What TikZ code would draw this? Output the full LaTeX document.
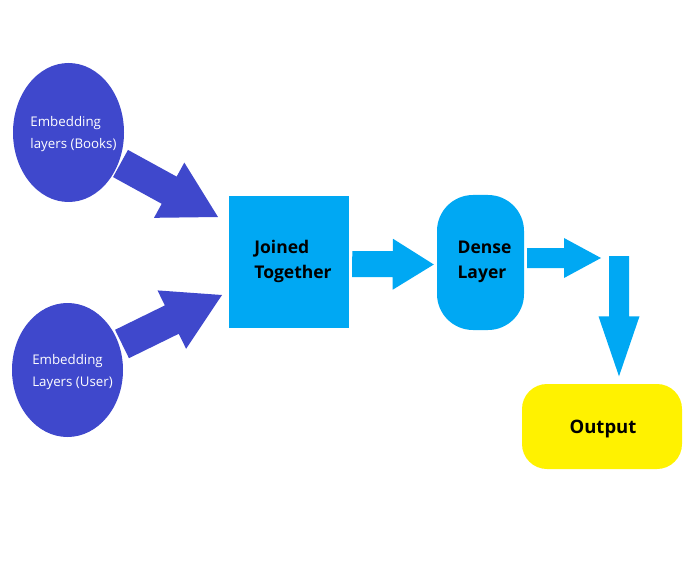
\documentclass[tikz,border=0pt]{standalone}
\usepackage{fontspec}
\setmainfont{Open Sans}
\usetikzlibrary{positioning,shapes.geometric,calc}

\definecolor{embblue}{HTML}{3F48CC}
\definecolor{skyblue}{HTML}{00A8F3}
\definecolor{outyellow}{HTML}{FFF200}

% fat block arrow: tail, tip, shaft half width, head half width, head length, colour
\newcommand{\fatarrow}[6]{%
  \coordinate (hb) at ($(#2)!#5!(#1)$);
  \fill[#6] ($(#1)!#3!90:(#2)$) -- ($(hb)!#3!90:(#2)$) -- ($(hb)!#4!90:(#2)$) -- (#2)
    -- ($(hb)!#4!-90:(#2)$) -- ($(hb)!#3!-90:(#2)$) -- ($(#1)!#3!-90:(#2)$) -- cycle;
}

\begin{document}
\begin{tikzpicture}[x=1pt, y=-1pt]
    \tikzstyle{embcircle} = [ellipse, fill=embblue, minimum width=111pt, inner sep=0pt]
    \tikzstyle{embtext} = [text=white, align=left, inner sep=0pt, font=\fontsize{13.3}{22}\selectfont]
    \tikzstyle{bluebox} = [rectangle, fill=skyblue, inner sep=0pt]
    \tikzstyle{boldtext} = [align=left, inner sep=0pt, font=\bfseries\fontsize{17.5}{25}\selectfont]
    \tikzstyle{outbox} = [rectangle, fill=outyellow, rounded corners=25pt, minimum width=160pt, minimum height=85pt, inner sep=0pt]
    \useasboundingbox (0,0) rectangle (696,564);
    \node[embcircle, minimum height=139pt] (E1) at (68.5,132.5) {};
    \node[embtext, xshift=5pt, yshift=-2pt] (E1t) at (E1) {Embedding\\layers (Books)};
    \node[embcircle, minimum height=134pt] (E2) at (67.5,370) {};
    \node[embtext, xshift=5pt, yshift=-2pt] (E2t) at (E2) {Embedding\\Layers (User)};
    \node[bluebox, minimum width=120pt, minimum height=132pt] (J) at (289,262) {};
    \node[boldtext, xshift=4pt, yshift=1pt] (Jt) at (J) {Joined\\Together};
    \node[bluebox, minimum width=87pt, minimum height=135pt, rounded corners=36pt] (D) at (480.5,262.5) {};
    \node[boldtext, xshift=4pt, yshift=1pt] (Dt) at (D) {Dense\\Layer};
    \node[outbox] (O) at (602,426.5) {};
    \node[boldtext, font=\bfseries\fontsize{18.5}{25}\selectfont, xshift=1pt, yshift=-3pt] (Ot) at (O) {Output};
    % arrow ends
    \coordinate (t1) at (120.5,163.5); \coordinate (h1) at (218,217);
    \coordinate (t2) at (122,344);     \coordinate (h2) at (222,295);
    \coordinate (t3) at ($(J.east)+(3,2)$);   \coordinate (h3) at ($(D.west)+(-3,2)$);
    \coordinate (t4) at ($(D.east)+(3,-4.5)$); \coordinate (h4) at (601,258);
    \coordinate (t5) at (619,256);     \coordinate (h5) at ($(O.north)+(17,-7.5)$);
    \foreach \t/\h/\s/\w/\l/\c in {t1/h1/15.5pt/31.5pt/55.7pt/embblue, t2/h2/15.8pt/32.5pt/55.9pt/embblue,
        t3/h3/13pt/25.5pt/41pt/skyblue, t4/h4/10pt/20pt/37pt/skyblue, t5/h5/10pt/20.5pt/60pt/skyblue}
    {
        \fatarrow{\t}{\h}{\s}{\w}{\l}{\c}
    }
\end{tikzpicture}
\end{document}
